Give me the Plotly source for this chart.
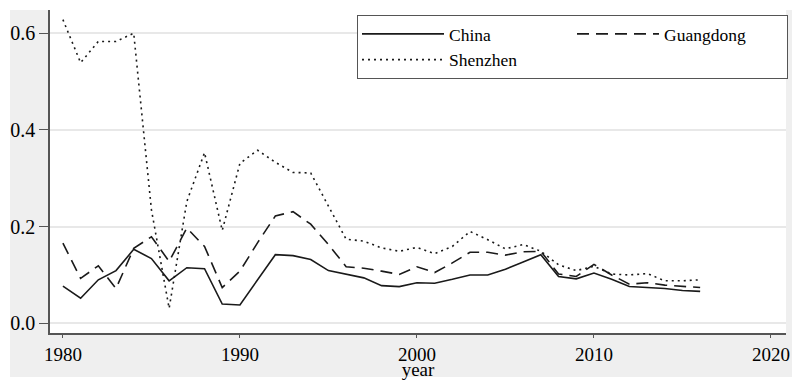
import plotly.graph_objects as go

years = list(range(1980, 2017))

china = [0.077, 0.052, 0.090, 0.109, 0.153, 0.134, 0.088, 0.115, 0.113, 0.040,
         0.038, 0.090, 0.142, 0.140, 0.132, 0.109, 0.101, 0.094, 0.078, 0.076,
         0.084, 0.083, 0.091, 0.100, 0.100, 0.112, 0.127, 0.142, 0.097, 0.092,
         0.104, 0.091, 0.076, 0.074, 0.072, 0.068, 0.066]

guangdong = [0.166, 0.093, 0.119, 0.072, 0.155, 0.179, 0.128, 0.197, 0.159, 0.074,
             0.108, 0.167, 0.222, 0.231, 0.205, 0.163, 0.117, 0.114, 0.108, 0.101,
             0.117, 0.105, 0.125, 0.147, 0.147, 0.141, 0.148, 0.149, 0.102, 0.097,
             0.122, 0.100, 0.081, 0.084, 0.079, 0.077, 0.074]

shenzhen = [0.628, 0.539, 0.583, 0.583, 0.600, 0.235, 0.031, 0.252, 0.353, 0.192,
            0.331, 0.358, 0.333, 0.312, 0.311, 0.243, 0.174, 0.170, 0.156, 0.149,
            0.157, 0.144, 0.159, 0.190, 0.173, 0.154, 0.163, 0.149, 0.121, 0.109,
            0.118, 0.102, 0.100, 0.103, 0.088, 0.088, 0.090]

x_ticks = [1980, 1990, 2000, 2010, 2020]
y_ticks = [0.0, 0.2, 0.4, 0.6]

FONT = "Liberation Serif, Times New Roman, serif"
INK = "#1a1a1a"

fig = go.Figure()
fig.add_trace(go.Scatter(x=years, y=china, name="China", mode="lines",
                         legendgroup="col1",
                         line=dict(color=INK, width=1.6, dash="solid")))
fig.add_trace(go.Scatter(x=years, y=guangdong, name="Guangdong", mode="lines",
                         legendgroup="col2",
                         line=dict(color=INK, width=1.6, dash="12px,7px")))
fig.add_trace(go.Scatter(x=years, y=shenzhen, name="Shenzhen", mode="lines",
                         legendgroup="col1",
                         line=dict(color=INK, width=1.6, dash="2px,4px")))

W, H = 792, 380
ml, mr, mt, mb = 50, 6, 10, 47
pw, ph = W - ml - mr, H - mt - mb

def px_x(p):
    return (p - ml) / pw

def px_y(p):
    return (H - mb - p) / ph

shapes = [
    # white page margins around the grey graph region
    dict(type="rect", xref="paper", yref="paper", layer="below",
         x0=px_x(0), x1=px_x(10), y0=px_y(H), y1=px_y(0),
         fillcolor="white", line=dict(width=0)),
    dict(type="rect", xref="paper", yref="paper", layer="below",
         x0=px_x(0), x1=px_x(W), y0=px_y(10), y1=px_y(0),
         fillcolor="white", line=dict(width=0)),
    dict(type="rect", xref="paper", yref="paper", layer="below",
         x0=px_x(0), x1=px_x(W), y0=px_y(H), y1=px_y(377),
         fillcolor="white", line=dict(width=0)),
]

fig.update_layout(
    width=W, height=H,
    margin=dict(l=ml, r=mr, t=mt, b=mb, pad=0, autoexpand=False),
    paper_bgcolor="#efefef",
    plot_bgcolor="white",
    font=dict(family=FONT, size=20, color="black"),
    shapes=shapes,
    showlegend=True,
    legend=dict(
        orientation="h",
        x=px_x(357), xanchor="left",
        y=px_y(15), yanchor="top",
        bgcolor="white",
        bordercolor="#555555", borderwidth=1,
        font=dict(family=FONT, size=17.5, color="black"),
        entrywidth=118, entrywidthmode="pixels",
        itemwidth=82,
        traceorder="grouped",
        tracegroupgap=0,
    ),
    xaxis=dict(
        range=[1979.27, 2020.85],
        tickvals=x_ticks,
        ticks="outside", ticklen=3, tickwidth=1.2, tickcolor="#555555",
        showline=True, linecolor="#555555", linewidth=1.5,
        showgrid=False, zeroline=False, automargin=False,
        tickfont=dict(family=FONT, size=19, color="black"),
        title=dict(text="year", font=dict(family=FONT, size=19), standoff=0),
    ),
    yaxis=dict(
        range=[-0.02, 0.648],
        tickvals=y_ticks,
        tickformat=".1f",
        ticks="outside", ticklen=9, tickwidth=1.2, tickcolor="#555555",
        showline=True, linecolor="#555555", linewidth=1.5,
        showgrid=True, gridcolor="#e8e8e8", gridwidth=1.5,
        zeroline=False, automargin=False,
        tickfont=dict(family=FONT, size=20, color="black"),
    ),
)

fig.write_html("out.html", config={"displayModeBar": False},
               post_script="document.body.style.margin='0';")
